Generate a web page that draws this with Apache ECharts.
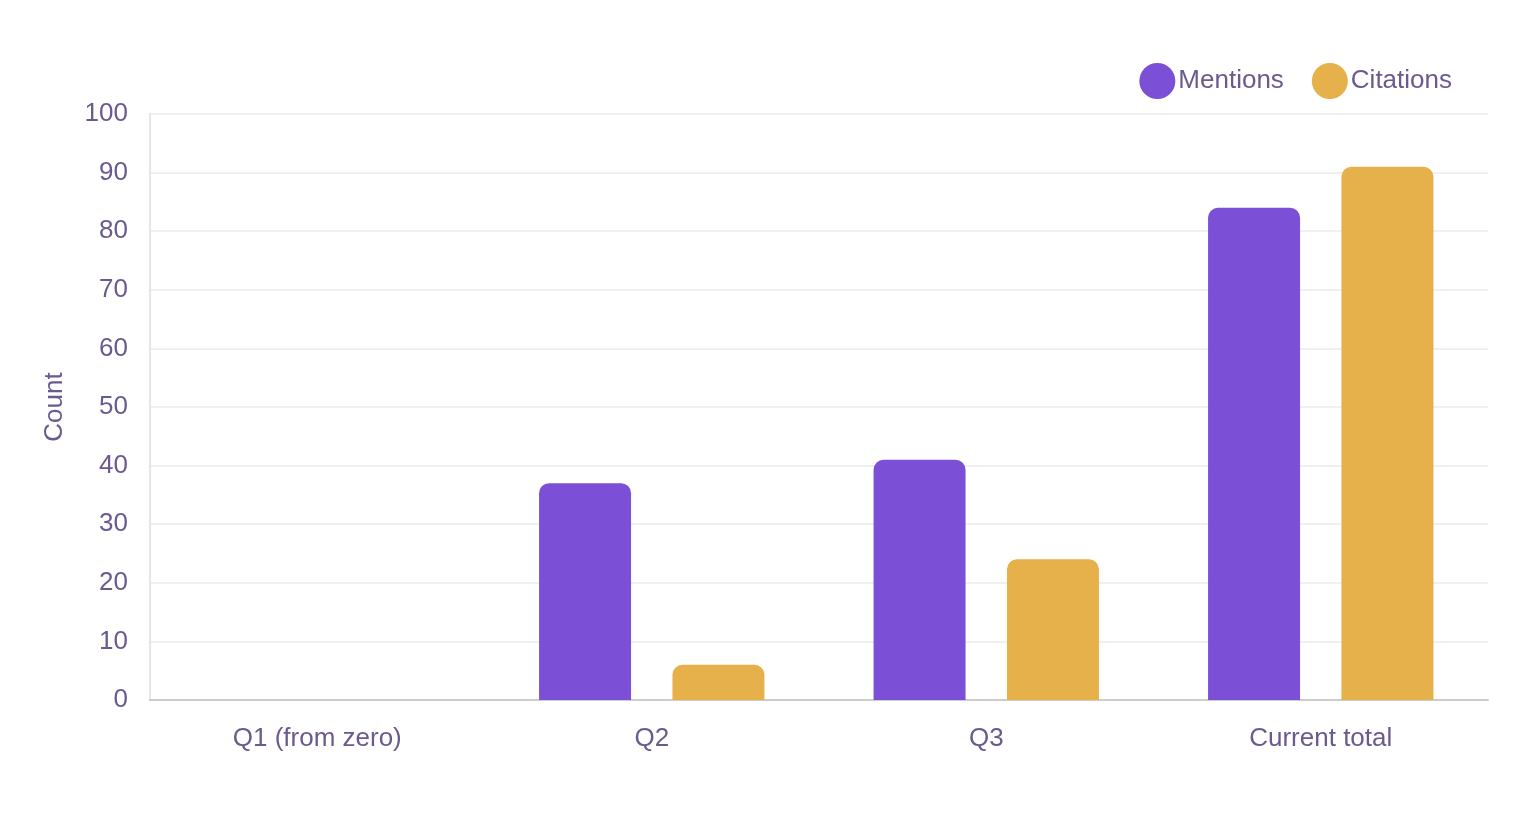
<!DOCTYPE html>
<html>
<head>
<meta charset="utf-8">
<script src="https://cdn.jsdelivr.net/npm/echarts@6/dist/echarts.min.js"></script>
<style>
  html, body { margin: 0; padding: 0; background: #fff; }
  #chart { width: 1520px; height: 840px; }
</style>
</head>
<body>
<div id="chart"></div>
<script>
var categories = ['Q1 (from zero)', 'Q2', 'Q3', 'Current total'];
var mentions = [0, 37, 41, 84];
var citations = [0, 6, 24, 91];

var textColor = '#6b5a8e';
var chart = echarts.init(document.getElementById('chart'));

var option = {
  textStyle: { fontFamily: 'Liberation Sans, Arial, sans-serif' },
  legend: {
    top: 58,
    right: 63,
    icon: 'circle',
    itemWidth: 36,
    itemHeight: 36,
    itemGap: 28,
    textStyle: { color: textColor, fontSize: 26, padding: [0, 0, 0, -2] },
    data: ['Mentions', 'Citations']
  },
  grid: {
    left: 150,
    right: 32,
    top: 114,
    bottom: 140
  },
  xAxis: {
    type: 'category',
    data: categories,
    axisTick: { show: false },
    axisLine: { lineStyle: { color: '#cccccc', width: 2 } },
    axisLabel: { color: textColor, fontSize: 26, margin: 26 }
  },
  yAxis: {
    type: 'value',
    min: 0,
    max: 100,
    interval: 10,
    name: 'Count',
    nameLocation: 'middle',
    nameGap: 82,
    nameTextStyle: { color: textColor, fontSize: 26 },
    axisLine: { show: true, lineStyle: { color: '#e6e6e6', width: 2 } },
    axisTick: { show: false },
    axisLabel: { color: textColor, fontSize: 26, margin: 22 },
    splitLine: { lineStyle: { color: '#ebebeb', width: 1.5 } }
  },
  series: [
    {
      name: 'Mentions',
      type: 'bar',
      data: mentions,
      barWidth: '27.5%',
      barGap: '45%',
      itemStyle: { color: '#7b4fd6', borderRadius: [10, 10, 0, 0] }
    },
    {
      name: 'Citations',
      type: 'bar',
      data: citations,
      barWidth: '27.5%',
      itemStyle: { color: '#e6b04a', borderRadius: [10, 10, 0, 0] }
    }
  ]
};
chart.setOption(option);
</script>
</body>
</html>
